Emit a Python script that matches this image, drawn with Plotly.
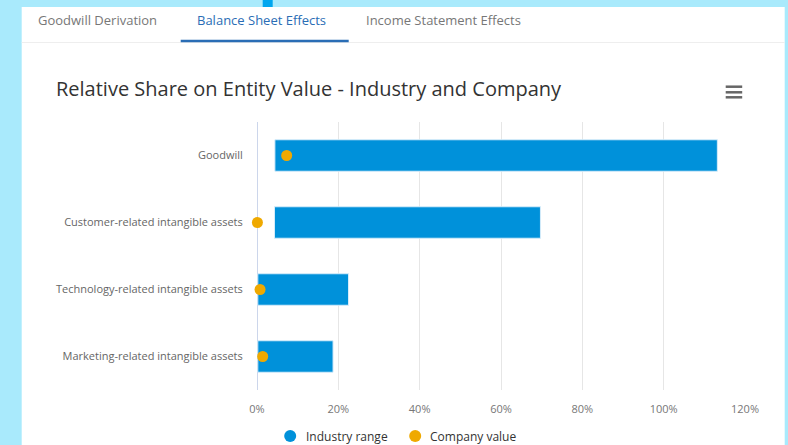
import plotly.graph_objects as go

categories = ["Goodwill", "Customer-related intangible assets",
              "Technology-related intangible assets", "Marketing-related intangible assets"]
range_low = [4.4, 4.3, 0.2, 0.2]
range_high = [113.2, 69.7, 22.5, 18.7]
company_value = [7.3, 0.1, 0.75, 1.4]
x_ticks = [0, 20, 40, 60, 80, 100, 120]
x_tick_labels = [f"{t}%" for t in x_ticks]
legend_names = ["Industry range", "Company value"]

W, H = 788, 445
L, R, T, B = 257.3, 745.3, 122, 390

def px(x):
    return (x - L) / (R - L)

def py(y):
    return (B - y) / (B - T)

BLUE = "#0091da"
ORANGE = "#efa900"
FONT = "Open Sans, sans-serif"

fig = go.Figure()
fig.add_trace(go.Bar(
    y=categories, x=[h - l for l, h in zip(range_low, range_high)], base=range_low,
    orientation="h", marker=dict(color=BLUE, line=dict(color="#d6ecfa", width=1)),
    width=0.47, showlegend=False, name=legend_names[0], hoverinfo="skip"))
fig.add_trace(go.Scatter(
    x=company_value, y=categories, mode="markers", name=legend_names[1], showlegend=False,
    marker=dict(color=ORANGE, size=11, symbol="circle"), cliponaxis=False))

shapes = [
    dict(type="rect", xref="paper", yref="paper", x0=px(22), x1=px(785), y0=py(445), y1=py(7),
         fillcolor="white", line=dict(width=0), layer="below"),
    dict(type="rect", xref="paper", yref="paper", x0=px(263), x1=px(273), y0=py(7), y1=py(0),
         fillcolor="#00a6ef", line=dict(width=0), layer="below"),
    dict(type="line", xref="paper", yref="paper", x0=px(22), x1=px(785), y0=py(42.5), y1=py(42.5),
         line=dict(color="#eeeeee", width=1), layer="below"),
    dict(type="line", xref="paper", yref="paper", x0=px(181), x1=px(349), y0=py(41), y1=py(41),
         line=dict(color="#2a6db5", width=2.5)),
]
for yy in [86.7, 92.3, 97.3]:
    shapes.append(dict(type="line", xref="paper", yref="paper", x0=px(726), x1=px(742.5),
                       y0=py(yy), y1=py(yy), line=dict(color="#666666", width=2.5)))

annotations = [
    dict(text="Goodwill Derivation", x=px(36), y=py(20), xref="paper", yref="paper",
         xanchor="left", yanchor="middle", showarrow=False, font=dict(family=FONT, size=13, color="#777777")),
    dict(text="Balance Sheet Effects", x=px(195), y=py(20), xref="paper", yref="paper",
         xanchor="left", yanchor="middle", showarrow=False, font=dict(family=FONT, size=13, color="#2a6db5")),
    dict(text="Income Statement Effects", x=px(364), y=py(20), xref="paper", yref="paper",
         xanchor="left", yanchor="middle", showarrow=False, font=dict(family=FONT, size=13, color="#777777")),
    dict(text="Relative Share on Entity Value - Industry and Company", x=px(54), y=py(88),
         xref="paper", yref="paper", xanchor="left", yanchor="middle", showarrow=False,
         font=dict(family=FONT, size=20, color="#333333")),
]

# legend (circle symbol + label)
legend_items = [(legend_names[0], BLUE, 290.5, 304), (legend_names[1], ORANGE, 415.5, 428)]
LEG_Y = 436
for name, col, cx, tx in legend_items:
    shapes.append(dict(type="circle", xref="paper", yref="paper",
                       x0=px(cx - 6), x1=px(cx + 6), y0=py(LEG_Y + 6), y1=py(LEG_Y - 6),
                       fillcolor=col, line=dict(width=0)))
    annotations.append(dict(text=name, x=px(tx), y=py(LEG_Y), xref="paper", yref="paper",
                            xanchor="left", yanchor="middle", showarrow=False,
                            font=dict(family=FONT, size=12, color="#333333")))

fig.update_layout(
    width=W, height=H, autosize=False,
    margin=dict(l=L, r=W - R, t=T, b=H - B, pad=0, autoexpand=False),
    paper_bgcolor="#a9eafc", plot_bgcolor="white",
    font=dict(family=FONT, color="#666666"),
    shapes=shapes, annotations=annotations,
    xaxis=dict(range=[0, 120], tickvals=x_ticks, ticktext=x_tick_labels,
               showgrid=True, gridcolor="#e6e6e6", gridwidth=1,
               zeroline=True, zerolinecolor="#ccd6eb", zerolinewidth=1,
               showline=False, tickfont=dict(size=11, color="#777777"),
               ticks="outside", ticklen=9, tickcolor="rgba(0,0,0,0)", fixedrange=True,
               automargin=False),
    yaxis=dict(categoryorder="array", categoryarray=categories[::-1],
               showgrid=False, zeroline=False, showline=False,
               tickfont=dict(size=11, color="#666666"),
               ticks="outside", ticklen=11, tickcolor="rgba(0,0,0,0)", fixedrange=True,
               automargin=False),
    showlegend=False,
)

fig.write_html("out.html", config={"displayModeBar": False},
               post_script="document.body.style.margin='0';document.body.style.overflow='hidden';")
